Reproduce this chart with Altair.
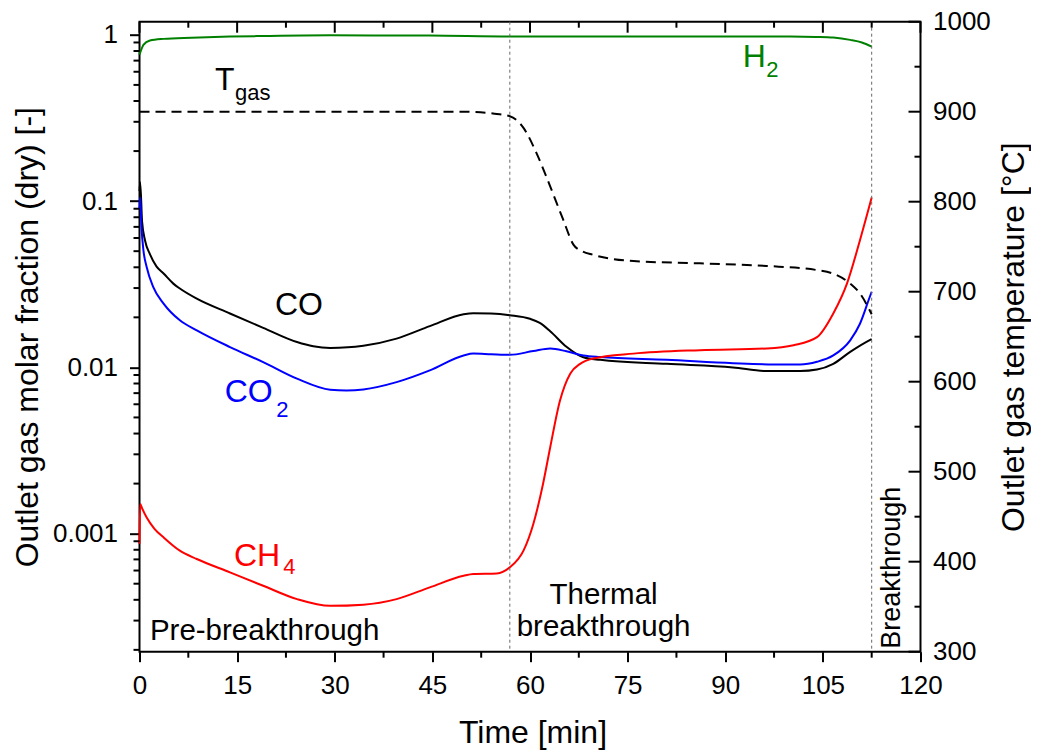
import altair as alt
import pandas as pd

# ---------------- data ----------------
co_t = [0.0, 0.1, 0.4, 0.85, 1.6, 2.6, 3.7, 5.2, 6.2, 8.8, 13.9, 19.0, 24.2, 26.7, 29.3, 32.0, 34.4, 39.5, 44.6, 49.8,
        51.3, 54.0, 56.9, 60.0, 61.5, 63.1, 65.6, 68.2, 70.8, 81.0, 91.2, 96.4, 101.5, 104.1, 106.6, 109.2, 112.2, 112.5]
co_v = [0.115, 0.13, 0.075, 0.058, 0.048, 0.0405, 0.0367, 0.0319, 0.0298, 0.0259, 0.0211, 0.0173, 0.0142, 0.0134, 0.0131,
        0.0132, 0.0135, 0.0149, 0.0177, 0.0209, 0.0212, 0.0211, 0.0206, 0.0196, 0.0185, 0.0165, 0.0133, 0.0115, 0.0111,
        0.0105, 0.0100, 0.0095, 0.0095, 0.0097, 0.0105, 0.0124, 0.0146, 0.0148]

co2_t = [0.0, 0.1, 0.3, 0.6, 1.1, 2.1, 3.7, 6.2, 8.8, 13.9, 19.0, 24.2, 29.3, 31.8, 34.4, 39.5, 44.6, 49.8, 51.3, 54.0,
         56.9, 60.5, 63.1, 65.6, 68.2, 70.8, 81.0, 91.2, 98.9, 101.5, 104.1, 106.6, 109.2, 110.7, 112.2, 112.5]
co2_v = [0.09, 0.105, 0.07, 0.0507, 0.0402, 0.0305, 0.0242, 0.0192, 0.0167, 0.01325, 0.01076, 0.00855, 0.00734, 0.00727,
         0.00737, 0.00815, 0.00959, 0.0118, 0.0121, 0.0120, 0.0119, 0.01254, 0.0130, 0.0125, 0.0118, 0.01153, 0.0111,
         0.0106, 0.0104, 0.0104, 0.0108, 0.0118, 0.01455, 0.0183, 0.0265, 0.0285]

ch4_t = [0.0, 0.1, 0.4, 1.1, 2.3, 3.7, 6.2, 8.8, 13.9, 19.0, 24.2, 29.3, 34.4, 39.5, 44.6, 49.8, 51.3, 54.9, 56.9, 59.0,
         60.5, 62.0, 63.1, 64.6, 66.2, 67.7, 69.7, 75.9, 86.1, 96.4, 100.5, 104.1, 106.6, 108.7, 110.7, 112.5]
ch4_v = [0.00087, 0.00151, 0.00142, 0.00125, 0.00107, 0.00095, 0.00079, 0.000704, 0.000585, 0.000486, 0.000404,
         0.000368, 0.000374, 0.000404, 0.000475, 0.000558, 0.000572, 0.000576, 0.000627, 0.00079, 0.00114, 0.00199,
         0.0033, 0.0063, 0.0092, 0.0105, 0.0113, 0.0121, 0.0127, 0.0130, 0.0136, 0.0152, 0.0211, 0.0319, 0.0582, 0.105]

h2_t = [0.0, 0.3, 0.6, 1.6, 3.7, 8.0, 13.9, 20.0, 29.3, 44.6, 56.9, 70.0, 85.0, 100.0, 104.0, 106.6, 109.2, 111.0, 112.5]
h2_v = [0.76, 0.82, 0.87, 0.924, 0.946, 0.962, 0.977, 0.985, 0.993, 0.99, 0.977, 0.977, 0.977, 0.977, 0.972, 0.963,
        0.933, 0.90, 0.85]

tgas_t = [0.0, 20.0, 40.0, 49.8, 54.3, 56.9, 59.0, 61.0, 63.1, 65.1, 66.7, 68.0, 69.7, 75.9, 86.1, 96.4, 104.1, 106.6,
          109.2, 110.7, 112.5]
tgas_v = [900, 900, 900, 900, 898, 895, 882, 854, 817, 780, 752, 745, 741, 734, 731.5, 728.6, 724, 720, 709, 698, 675]

# phase boundaries [min]
boundary_t = [56.9, 112.5]

# axis ticks
x_major = [0, 15, 30, 45, 60, 75, 90, 105, 120]
x_minor = [7.5, 22.5, 37.5, 52.5, 67.5, 82.5, 97.5, 112.5]
y_major = [0.001, 0.01, 0.1, 1]
y_minor = [0.0002, 0.0003, 0.0004, 0.0005, 0.0006, 0.0007, 0.0008, 0.0009,
           0.002, 0.003, 0.004, 0.005, 0.006, 0.007, 0.008, 0.009,
           0.02, 0.03, 0.04, 0.05, 0.06, 0.07, 0.08, 0.09,
           0.2, 0.3, 0.4, 0.5, 0.6, 0.7, 0.8, 0.9]
t_major = [300, 400, 500, 600, 700, 800, 900, 1000]
t_minor = [350, 450, 550, 650, 750, 850, 950]

# annotations
main_text = ["T", "H", "CO", "CO", "CH"]
main_key = ["Tgas", "H2", "CO", "CO2", "CH4"]
main_t = [11.6, 92.7, 20.8, 13.1, 14.5]
main_v = [0.466, 0.644, 0.0206, 0.00618, 0.000642]

sub_text = ["gas", "2", "2", "4"]
sub_key = ["Tgas", "H2", "CO2", "CH4"]
sub_t = [14.67, 96.3, 21.0, 22.1]
sub_v = [0.406, 0.561, 0.00502, 0.000574]

pre_text = ["Pre-breakthrough"]
pre_t = [1.6]
pre_v = [0.00023]

thermal_text = ["Thermal", "breakthrough"]
thermal_t = [71.3, 71.3]
thermal_v = [0.000379, 0.000243]

bt_text = ["Breakthrough"]
bt_t = [116.85]
bt_v = [0.000203]

# ---------------- tables ----------------
series = []
for key, ts, vs in [("CO", co_t, co_v), ("CO2", co2_t, co2_v), ("CH4", ch4_t, ch4_v), ("H2", h2_t, h2_v)]:
    for t, v in zip(ts, vs):
        series.append({"t": t, "v": v, "key": key})
df_lines = pd.DataFrame(series)
df_T = pd.DataFrame({"t": tgas_t, "T": tgas_v})
df_bound = pd.DataFrame({"t": boundary_t})
df_xmaj = pd.DataFrame({"t": x_major})
df_xmin = pd.DataFrame({"t": x_minor})
df_ymin = pd.DataFrame({"v": y_minor})
df_tmaj = pd.DataFrame({"T": t_major})
df_tmin = pd.DataFrame({"T": t_minor})
df_main = pd.DataFrame({"t": main_t, "v": main_v, "text": main_text, "key": main_key})
df_sub = pd.DataFrame({"t": sub_t, "v": sub_v, "text": sub_text, "key": sub_key})
df_pre = pd.DataFrame({"t": pre_t, "v": pre_v, "text": pre_text})
df_th = pd.DataFrame({"t": thermal_t, "v": thermal_v, "text": thermal_text})
df_bt = pd.DataFrame({"t": bt_t, "v": bt_v, "text": bt_text})

# ---------------- scales / axes ----------------
X_MIN, X_MAX = 0, 120
Y_MIN, Y_MAX = 1.95e-4, 1.2
T_MIN, T_MAX = 300, 1000

FONT = "Liberation Sans"
xscale = alt.Scale(domain=[X_MIN, X_MAX], nice=False, zero=False)
yscale = alt.Scale(type="log", domain=[Y_MIN, Y_MAX], nice=False)
tscale = alt.Scale(domain=[T_MIN, T_MAX], nice=False, zero=False)
colscale = alt.Scale(domain=["CO", "CO2", "CH4", "H2", "Tgas"],
                     range=["#000000", "#0000ff", "#ff0000", "#008000", "#000000"])

xaxis = alt.Axis(values=x_major, tickSize=10, tickWidth=2, labelPadding=11, labelFontSize=26,
                 labelFlush=False, labelOverlap=False, title="Time [min]", titleFontSize=32,
                 titleX=393, titleY=91, titleBaseline="alphabetic", titleAlign="center")
yaxis = alt.Axis(values=y_major, format="~g", tickSize=10, tickWidth=2, labelPadding=12, labelFontSize=26,
                 labelOverlap=False, title="Outlet gas molar fraction (dry) [-]", titleFontSize=32,
                 titleAngle=270, titleX=-102, titleY=315, titleBaseline="alphabetic", titleAlign="center")
taxis = alt.Axis(orient="right", values=t_major, format="d", ticks=False, tickSize=0, labelPadding=12,
                 labelFontSize=26, labelOverlap=False, title="Outlet gas temperature [°C]", titleFontSize=32,
                 titleAngle=270, titleX=103, titleY=315, titleBaseline="alphabetic", titleAlign="center")


def X():
    return alt.X("t:Q", scale=xscale, axis=xaxis)


def Y():
    return alt.Y("v:Q", scale=yscale, axis=yaxis)


def YT():
    return alt.Y("T:Q", scale=tscale, axis=taxis)


lines = alt.Chart(df_lines).mark_line(strokeWidth=2, interpolate="monotone").encode(
    x=X(), y=Y(),
    color=alt.Color("key:N", scale=colscale, legend=None),
    detail="key:N",
)

bounds = alt.Chart(df_bound).mark_rule(color="#666666", strokeWidth=1, strokeDash=[3, 3]).encode(x=X())

left_minor = alt.Chart(df_ymin).mark_rule(color="black", strokeWidth=2, x2Offset=-6).encode(
    y=Y(), x=alt.XDatum(X_MIN, scale=xscale, axis=xaxis), x2=alt.X2Datum(X_MIN))

bottom_minor = alt.Chart(df_xmin).mark_rule(color="black", strokeWidth=2, y2Offset=6).encode(
    x=X(), y=alt.YDatum(Y_MIN, scale=yscale, axis=yaxis), y2=alt.Y2Datum(Y_MIN))

top_major = alt.Chart(df_xmaj).mark_rule(color="black", strokeWidth=2, y2Offset=11).encode(
    x=X(), y=alt.YDatum(Y_MAX, scale=yscale, axis=yaxis), y2=alt.Y2Datum(Y_MAX))

top_minor = alt.Chart(df_xmin).mark_rule(color="black", strokeWidth=2, y2Offset=6).encode(
    x=X(), y=alt.YDatum(Y_MAX, scale=yscale, axis=yaxis), y2=alt.Y2Datum(Y_MAX))

main_lbl = alt.Chart(df_main).mark_text(align="left", baseline="alphabetic", fontSize=32, font=FONT).encode(
    x=X(), y=Y(), text="text:N", color=alt.Color("key:N", scale=colscale, legend=None))

sub_lbl = alt.Chart(df_sub).mark_text(align="left", baseline="alphabetic", fontSize=22, font=FONT).encode(
    x=X(), y=Y(), text="text:N", color=alt.Color("key:N", scale=colscale, legend=None))

pre_lbl = alt.Chart(df_pre).mark_text(align="left", baseline="alphabetic", fontSize=29.5, font=FONT,
                                      color="black").encode(x=X(), y=Y(), text="text:N")

th_lbl = alt.Chart(df_th).mark_text(align="center", baseline="alphabetic", fontSize=29.5, font=FONT,
                                    color="black").encode(x=X(), y=Y(), text="text:N")

bt_lbl = alt.Chart(df_bt).mark_text(align="left", baseline="alphabetic", fontSize=27, font=FONT, angle=270,
                                    color="black").encode(x=X(), y=Y(), text="text:N")

left_group = alt.layer(lines, bounds, left_minor, bottom_minor, top_major, top_minor,
                       main_lbl, sub_lbl, pre_lbl, th_lbl, bt_lbl)

T_line = alt.Chart(df_T).mark_line(color="black", strokeWidth=2, strokeDash=[10, 6], interpolate="monotone").encode(
    x=X(), y=YT())

right_major = alt.Chart(df_tmaj).mark_rule(color="black", strokeWidth=2, x2Offset=-12).encode(
    y=YT(), x=alt.XDatum(X_MAX, scale=xscale, axis=xaxis), x2=alt.X2Datum(X_MAX))
right_minor = alt.Chart(df_tmin).mark_rule(color="black", strokeWidth=2, x2Offset=-6).encode(
    y=YT(), x=alt.XDatum(X_MAX, scale=xscale, axis=xaxis), x2=alt.X2Datum(X_MAX))

right_group = alt.layer(T_line, right_major, right_minor)

chart = alt.layer(left_group, right_group).resolve_scale(y="independent").properties(
    width=781, height=630,
    autosize=alt.AutoSizeParams(type="none"),
    padding={"left": 131.5, "top": 13.7, "right": 110.5, "bottom": 98},
    background="white",
).configure(font=FONT).configure_view(stroke="black", strokeWidth=2).configure_axis(
    grid=False, domain=False, labelColor="black", titleColor="black", tickColor="black",
    labelFont=FONT, titleFont=FONT, titleFontWeight="normal",
)

chart.save("out.html", embed_options={"renderer": "svg", "actions": False})
